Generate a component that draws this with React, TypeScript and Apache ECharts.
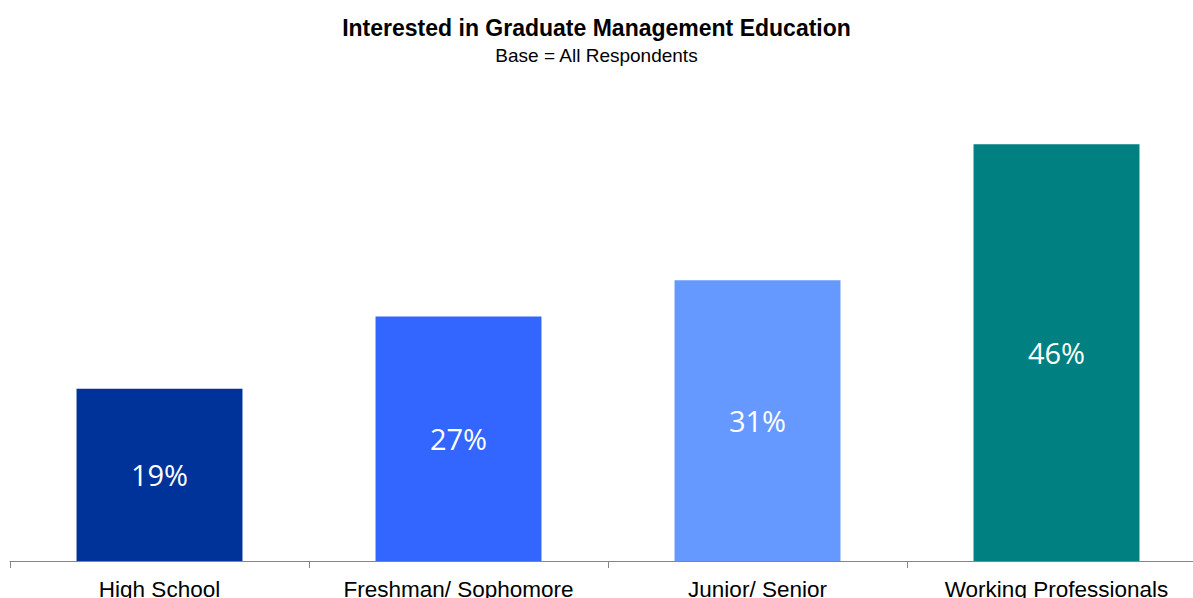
import React, { useEffect, useRef } from "react";
import * as echarts from "echarts";

const categories = ["High School", "Freshman/ Sophomore", "Junior/ Senior", "Working Professionals"];
const values = [19, 27, 31, 46];
const barColors = ["#003399", "#3366FF", "#6699FF", "#008080"];
const titleText = "Interested in Graduate Management Education";
const subtitleText = "Base = All Respondents";

export default function App() {
  const ref = useRef<HTMLDivElement>(null);
  useEffect(() => {
    if (!ref.current) return;
    const chart = echarts.init(ref.current, null, { renderer: "svg" });
    chart.setOption({
      animation: false,
      backgroundColor: "#ffffff",
      title: {
        text: titleText,
        subtext: subtitleText,
        left: "center",
        top: 11,
        itemGap: 7,
        textStyle: { fontFamily: "Liberation Sans, Arial", fontSize: 23, fontWeight: "bold", color: "#000" },
        subtextStyle: { fontFamily: "Liberation Sans, Arial", fontSize: 19, color: "#000" },
      },
      grid: { left: 10, right: -13, top: 108, bottom: 37, containLabel: false, outerBoundsMode: "none" },
      xAxis: {
        type: "category",
        data: categories,
        axisLine: { lineStyle: { color: "#868686", width: 1 } },
        axisTick: { show: true, length: 7, lineStyle: { color: "#868686" } },
        axisLabel: { fontFamily: "Liberation Sans, Arial", fontSize: 22.5, color: "#000", margin: 17, interval: 0 },
      },
      yAxis: {
        type: "value",
        min: 0,
        max: 50,
        show: false,
        splitLine: { show: false },
      },
      series: [
        {
          type: "bar",
          barWidth: "55.5%",
          data: values.map((v, i) => ({ value: v, itemStyle: { color: barColors[i] } })),
          label: {
            show: true,
            position: "inside",
            formatter: "{c}%",
            color: "#fff",
            fontFamily: "Open Sans, Lato, sans-serif",
            fontSize: 29,
          },
        },
      ],
    });
    return () => chart.dispose();
  }, []);
  return <div ref={ref} style={{ position: "fixed", left: 0, top: 0, width: 1193, height: 598 }} />;
}
